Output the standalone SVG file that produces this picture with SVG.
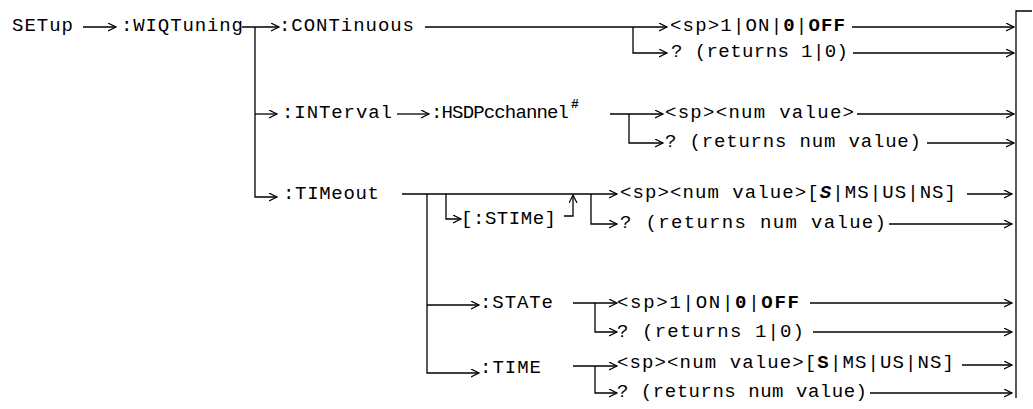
<svg xmlns="http://www.w3.org/2000/svg" width="1033" height="409" viewBox="0 0 1033 409">
<defs>
<style>
text{font-family:"Liberation Mono","Courier New",monospace;font-size:19px;fill:#000}
.b{font-weight:bold}
.bi{font-weight:bold;font-style:italic}
.sup{font-size:13px;font-weight:bold}
.c path{fill:none;stroke:#000;stroke-width:1.3}
</style>
<marker id="a" markerWidth="10" markerHeight="10" refX="8" refY="4" orient="auto" markerUnits="userSpaceOnUse"><path d="M0,0 L8,4 L0,8" fill="none" stroke="#000" stroke-width="1.2"/></marker>
</defs>
<rect width="1033" height="409" fill="#fff"/>
<g class="c" id="connectors">
<path d="M83,27 H116" marker-end="url(#a)"/>
<path d="M242,27 H279" marker-end="url(#a)"/>
<path d="M255,27 V197 H277" marker-end="url(#a)"/>
<path d="M255,114 H277" marker-end="url(#a)"/>
<path d="M425,27 H667" marker-end="url(#a)"/>
<path d="M633,27 V53 H667" marker-end="url(#a)"/>
<path d="M852,27 H1014" marker-end="url(#a)"/>
<path d="M853,53 H1014" marker-end="url(#a)"/>
<path d="M397,114 H429" marker-end="url(#a)"/>
<path d="M610,114 H663" marker-end="url(#a)"/>
<path d="M629,114 V143 H663" marker-end="url(#a)"/>
<path d="M857,114 H1014" marker-end="url(#a)"/>
<path d="M927,143 H1014" marker-end="url(#a)"/>
<path d="M402,194 H617" marker-end="url(#a)"/>
<path d="M446,194 V219 H461" marker-end="url(#a)"/>
<path d="M564,216 H573 V195" marker-end="url(#a)"/>
<path d="M591,194 V224 H617" marker-end="url(#a)"/>
<path d="M967,194 H1012" marker-end="url(#a)"/>
<path d="M889,224 H1012" marker-end="url(#a)"/>
<path d="M427,194 V373 H479" marker-end="url(#a)"/>
<path d="M427,305 H479" marker-end="url(#a)"/>
<path d="M573,303 H617" marker-end="url(#a)"/>
<path d="M595,303 V332 H617" marker-end="url(#a)"/>
<path d="M810,303 H1012" marker-end="url(#a)"/>
<path d="M813,332 H1012" marker-end="url(#a)"/>
<path d="M573,366 H617" marker-end="url(#a)"/>
<path d="M595,366 V393 H617" marker-end="url(#a)"/>
<path d="M962,365 H1012" marker-end="url(#a)"/>
<path d="M870,393 H1012" marker-end="url(#a)"/>
<path d="M1032,11 H1016 V398"/>
</g>
<g id="n-setup"><text x="12" y="31" textLength="61">SETup</text></g>
<g id="n-wiqtuning"><text x="121" y="31" textLength="122">:WIQTuning</text></g>
<g id="n-continuous"><text x="279" y="31" textLength="135">:CONTinuous</text></g>
<g id="n-cont-set"><text x="670" y="31" textLength="175">&lt;sp&gt;1|ON|<tspan class="b">0</tspan>|<tspan class="b">OFF</tspan></text></g>
<g id="n-cont-q"><text x="671" y="57" textLength="177">? (returns 1|0)</text></g>
<g id="n-interval"><text x="282" y="118" textLength="110">:INTerval</text></g>
<g id="n-hsdp"><text x="431" y="118" textLength="138">:HSDPcchannel</text><text class="sup" x="571" y="108">#</text></g>
<g id="n-int-set"><text x="665" y="118" textLength="189">&lt;sp&gt;&lt;num value&gt;</text></g>
<g id="n-int-q"><text x="665" y="147" textLength="256">? (returns num value)</text></g>
<g id="n-timeout"><text x="283" y="199" textLength="96">:TIMeout</text></g>
<g id="n-stime"><text x="461" y="224" textLength="95">[:STIMe]</text></g>
<g id="n-stime-set"><text x="620" y="198" textLength="336">&lt;sp&gt;&lt;num value&gt;[<tspan class="bi">S</tspan>|MS|US|NS]</text></g>
<g id="n-stime-q"><text x="620" y="228" textLength="266">? (returns num value)</text></g>
<g id="n-state"><text x="480" y="308" textLength="73">:STATe</text></g>
<g id="n-state-set"><text x="617" y="308" textLength="182">&lt;sp&gt;1|ON|<tspan class="b">0</tspan>|<tspan class="b">OFF</tspan></text></g>
<g id="n-state-q"><text x="617" y="337" textLength="187">? (returns 1|0)</text></g>
<g id="n-time"><text x="480" y="373" textLength="61">:TIME</text></g>
<g id="n-time-set"><text x="617" y="368" textLength="337">&lt;sp&gt;&lt;num value&gt;[<tspan class="b">S</tspan>|MS|US|NS]</text></g>
<g id="n-time-q"><text x="617" y="397" textLength="250">? (returns num value)</text></g>
</svg>
